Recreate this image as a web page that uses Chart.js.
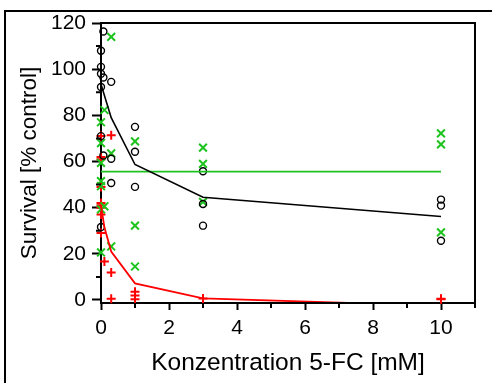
<!DOCTYPE html>
<html><head><meta charset="utf-8">
<script src="https://cdn.jsdelivr.net/npm/chart.js@4"></script>
<style>html,body{margin:0;padding:0;background:#fff;overflow:hidden}canvas{display:block}</style>
</head><body>
<canvas id="c" width="492" height="383"></canvas>
<script>
// ---- data ----
const circleX = [0,0,0,0,0,0, 0.07,0.07,0.07, 0.3,0.3,0.3, 1,1,1, 3,3,3, 10,10,10];
const circleY = [108,101,98,92.3,71,31.6, 116.3,96.4,62.6, 94.5,61.2,50.7, 75,64.2,49, 55.8,41.6,32.2, 43.5,40.9,25.7];

const crossX = [0.1,0,0,0,0,0,0.1,0,0, 0.3,0.3,0.3, 1,1,1, 3,3,3, 10,10,10];
const crossY = [82.3,77,68,59.4,51.5,49.3,40.6,39.3,20.6, 114,63.5,23.2, 68.7,32.2,14.5, 66,59,42.5, 72.2,67.4,29.3];

const plusX = [0,0.3,0,0,0,0,0,0,0,0, 0.1, 0.3,0.3, 1,1,1, 3, 10,10];
const plusY = [71,71.4,62,61,49,42,41,40,37,29, 16.7, 11.9,0.5, 3.6,1.9,0.3, 0.7, 0.5,0.3];

const blackLineX = [0, 0.3, 1, 3, 10];
const blackLineY = [93.5, 79, 58.7, 44.5, 36.2];

const greenLineX = [0, 10];
const greenLineY = [55.6, 55.6];

const redLineX = [0, 0.1, 0.3, 1, 3, 10];
const redLineY = [41, 31.5, 21, 7.2, 0.7, -2.5];

const xTickValues = [0, 2, 4, 6, 8, 10];
const xMinorValues = [1, 3, 5, 7, 9, 11];
const yTickValues = [0, 20, 40, 60, 80, 100, 120];
const yMinorValues = [10, 30, 50, 70, 90, 110];

const xTitle = 'Konzentration 5-FC [mM]';
const yTitle = 'Survival [% control]';

// ---- chart ----
const FONT = '"Liberation Sans", Arial, sans-serif';
const pts = (xs, ys) => xs.map((x, i) => ({x: x, y: ys[i]}));

const decor = {
  id: 'decor',
  afterDraw(chart) {
    const ctx = chart.ctx, a = chart.chartArea;
    const xs = chart.scales.x, ys = chart.scales.y;
    ctx.save();
    ctx.strokeStyle = '#000';
    ctx.lineWidth = 2;
    ctx.beginPath();
    // outer frame (left + top)
    ctx.moveTo(5, 400); ctx.lineTo(5, 11); ctx.lineTo(500, 11);
    // plot box top + right
    ctx.moveTo(a.left, a.top); ctx.lineTo(a.right, a.top); ctx.lineTo(a.right, a.bottom + 1);
    // minor ticks
    yMinorValues.forEach(v => { const p = ys.getPixelForValue(v); ctx.moveTo(a.left - 5, p); ctx.lineTo(a.left, p); });
    xMinorValues.forEach(v => { const p = xs.getPixelForValue(v); ctx.moveTo(p, a.bottom); ctx.lineTo(p, a.bottom + 5); });
    ctx.stroke();
    ctx.restore();
  }
};

new Chart(document.getElementById('c').getContext('2d'), {
  type: 'scatter',
  data: {
    datasets: [
      {data: pts(blackLineX, blackLineY), showLine: true, borderColor: '#000', borderWidth: 1.6, pointRadius: 0},
      {data: pts(greenLineX, greenLineY), showLine: true, borderColor: '#1ec31e', borderWidth: 1.6, pointRadius: 0},
      {data: pts(redLineX, redLineY), showLine: true, borderColor: '#ff0000', borderWidth: 1.8, pointRadius: 0,
       clip: {left: 10, top: 10, right: 10, bottom: -1}},
      {data: pts(circleX, circleY), pointStyle: 'circle', pointRadius: 3.5, borderColor: '#000', borderWidth: 1.4,
       backgroundColor: 'rgba(0,0,0,0)', clip: false},
      {data: pts(crossX, crossY), pointStyle: 'crossRot', pointRadius: 5.5, borderColor: '#1ec31e', borderWidth: 2, clip: false},
      {data: pts(plusX, plusY), pointStyle: 'cross', pointRadius: 4.5, borderColor: '#ff0000', borderWidth: 2, clip: false}
    ]
  },
  options: {
    responsive: false, animation: false, devicePixelRatio: 1,
    layout: {padding: {left: 0, right: 17, top: 23, bottom: 0}},
    plugins: {legend: {display: false}, tooltip: {enabled: false}},
    scales: {
      x: {
        type: 'linear', min: 0, max: 11,
        afterBuildTicks: s => { s.ticks = xTickValues.map(v => ({value: v})); },
        afterFit: s => { s.height = 80; },
        grid: {drawOnChartArea: false, drawTicks: true, tickLength: 7, tickWidth: 2, tickColor: '#000'},
        border: {display: true, color: '#000', width: 2},
        ticks: {color: '#000', font: {family: FONT, size: 21}, padding: 6, maxRotation: 0, autoSkip: false},
        title: {display: true, text: xTitle, color: '#000', font: {family: FONT, size: 24.5}, padding: {top: 0, bottom: 5}}
      },
      y: {
        type: 'linear', min: -1.3, max: 120,
        afterBuildTicks: s => { s.ticks = yTickValues.map(v => ({value: v})); },
        afterFit: s => { s.width = 101; },
        grid: {drawOnChartArea: false, drawTicks: true, tickLength: 9, tickWidth: 2, tickColor: '#000'},
        border: {display: true, color: '#000', width: 2},
        ticks: {color: '#000', font: {family: FONT, size: 21}, padding: 6, autoSkip: false},
        title: {display: true, text: yTitle, color: '#000', font: {family: FONT, size: 22.5}, padding: {top: 16, bottom: 0}}
      }
    }
  },
  plugins: [decor]
});
</script>
</body></html>
